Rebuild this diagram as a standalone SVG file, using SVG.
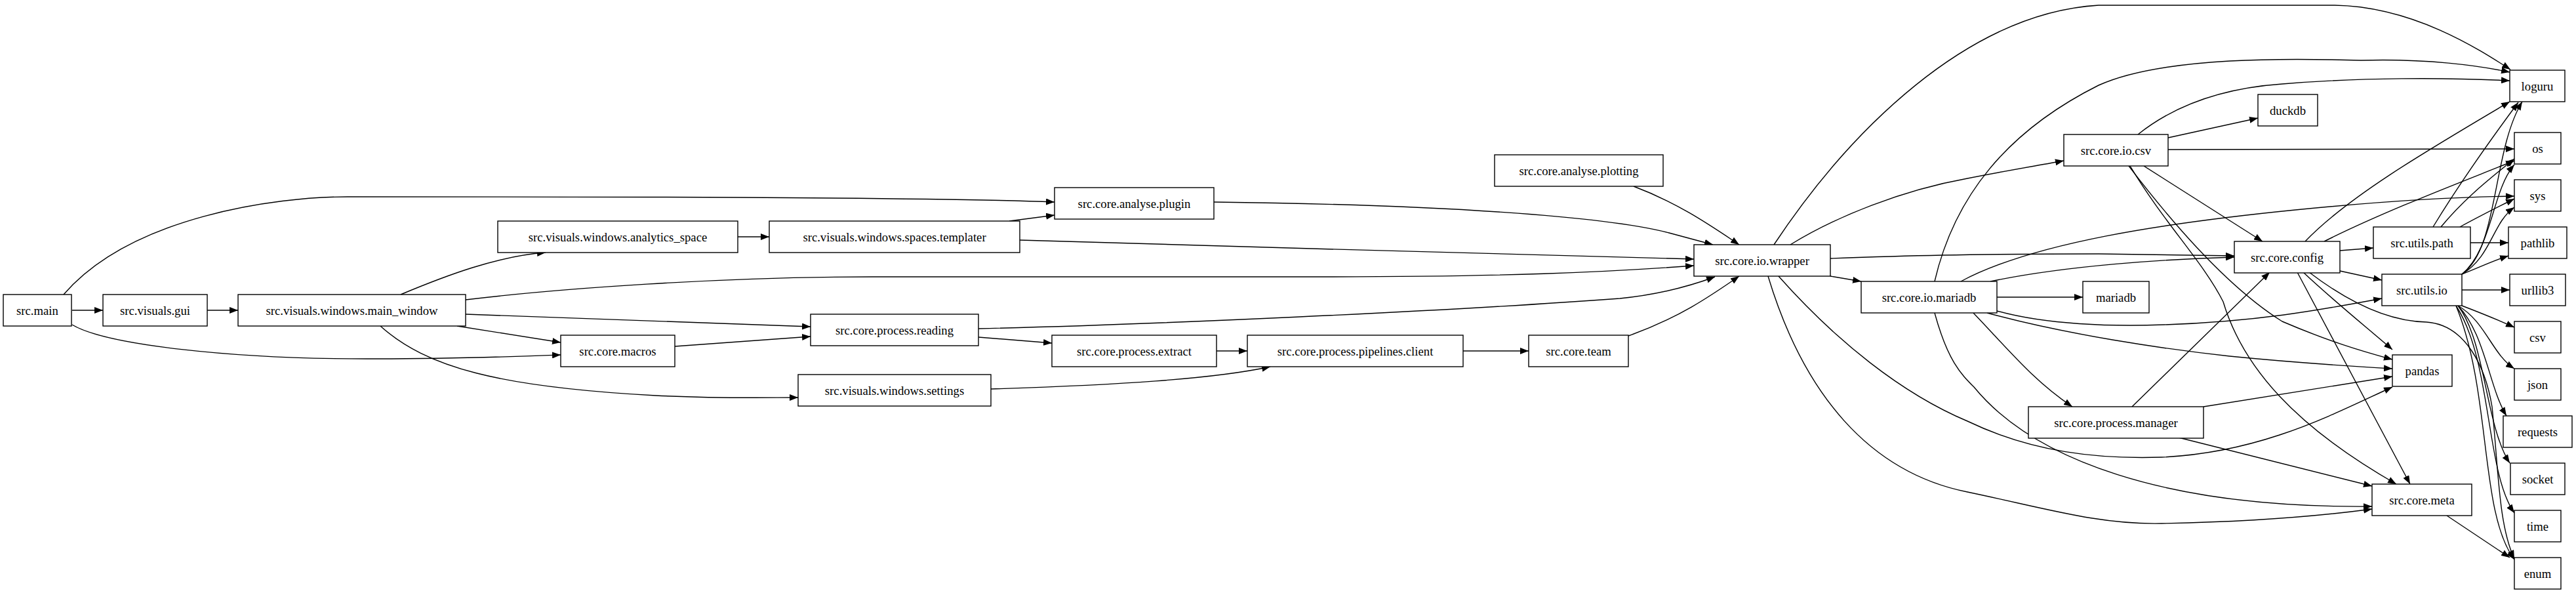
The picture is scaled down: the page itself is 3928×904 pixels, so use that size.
<svg xmlns="http://www.w3.org/2000/svg" width="3928" height="904" viewBox="0 0 3928 904">
<style>
.n rect{fill:#fff;stroke:#000;stroke-width:1.4}
.n text{font-family:"Liberation Serif",serif;font-size:18.7px;text-anchor:middle;dominant-baseline:central;fill:#000}
#edges path{fill:none;stroke:#000;stroke-width:1.4;marker-end:url(#a)}
</style>
<defs><marker id="a" viewBox="0 0 13 10" refX="13" refY="5" markerWidth="13" markerHeight="10" markerUnits="userSpaceOnUse" orient="auto"><path d="M0,0 L13,5 L0,10 z" fill="#000"/></marker></defs>
<rect width="3928" height="904" fill="#fff"/>
<g id="edges">
<path d="M110,473 L157,473"/>
<path d="M316,473 L363,473"/>
<path d="M97,449 C200,330 420,300 530,300 C900,300 1400,300 1608,308"/>
<path d="M110,495 C160,525 350,548 575,547 C700,547 800,543 855,541"/>
<path d="M611,449 C680,420 760,390 832,385"/>
<path d="M710,457 C850,440 1100,422 1330,422 L2000,422 C2300,422 2450,415 2583,405"/>
<path d="M710,479 L1236,498"/>
<path d="M697,497 L855,522"/>
<path d="M580,497 C650,560 760,590 1000,603 C1100,608 1170,606 1217,606"/>
<path d="M1125,361 L1173,361"/>
<path d="M1539,337 L1608,328"/>
<path d="M1555,366 L2000,379 C2300,387 2450,392 2583,395"/>
<path d="M1851,308 C2200,312 2450,330 2545,355 L2612,373"/>
<path d="M1029,528 L1236,513"/>
<path d="M1492,501 C1750,495 2200,475 2470,455 C2530,449 2580,435 2615,422"/>
<path d="M1492,514 L1604,523"/>
<path d="M1855,535 L1902,535"/>
<path d="M1511,593 C1700,587 1850,578 1937,559"/>
<path d="M2231,535 L2331,535"/>
<path d="M2483,512 C2560,485 2610,450 2652,421"/>
<path d="M2491,284 C2560,310 2610,345 2652,373"/>
<path d="M2705,373 C2820,200 3000,20 3200,8 L3560,8 C3680,10 3780,75 3828,106"/>
<path d="M2730,373 C2800,330 2900,290 3000,272 C3060,260 3110,252 3147,245"/>
<path d="M2791,394 C2900,390 3000,387 3200,387 L3407,390"/>
<path d="M2791,421 L2838,429"/>
<path d="M2712,421 C2800,520 2900,600 3000,642 C3100,690 3200,700 3296,697 C3450,690 3560,630 3648,590"/>
<path d="M2696,421 C2750,600 2850,720 3000,750 C3120,775 3200,800 3296,798 C3450,795 3550,785 3617,776"/>
<path d="M2950,429 C2980,300 3060,200 3200,130 C3300,85 3500,89 3600,92 C3700,89 3780,100 3827,110"/>
<path d="M3260,205 C3310,165 3380,135 3480,128 C3600,118 3730,118 3827,123"/>
<path d="M3306,210 L3443,180"/>
<path d="M3306,228 L3834,227"/>
<path d="M3269,253 L3450,368"/>
<path d="M3246,253 C3320,350 3400,440 3480,490 C3550,520 3600,535 3648,548"/>
<path d="M3248,253 C3300,340 3360,400 3390,460 C3420,560 3500,650 3654,738"/>
<path d="M2990,429 C3100,370 3300,340 3500,320 C3650,305 3760,300 3834,299"/>
<path d="M3035,429 C3150,405 3300,395 3407,392"/>
<path d="M3045,453 L3176,453"/>
<path d="M3045,474 C3120,495 3220,498 3300,495 C3450,490 3550,470 3632,455"/>
<path d="M3030,477 C3150,510 3300,532 3400,543 C3500,553 3580,558 3648,562"/>
<path d="M3009,477 C3060,530 3100,580 3160,620"/>
<path d="M2950,477 C2970,550 2990,570 3010,590 C3100,700 3300,775 3617,772"/>
<path d="M3515,368 C3580,300 3700,230 3827,155"/>
<path d="M3544,368 C3640,320 3760,275 3834,245"/>
<path d="M3568,382 L3619,378"/>
<path d="M3568,413 L3632,427"/>
<path d="M3512,415 C3560,460 3610,500 3648,533"/>
<path d="M3503,415 L3675,738"/>
<path d="M3521,415 C3580,460 3640,490 3700,491 C3760,495 3790,560 3800,620 C3810,720 3810,800 3834,852"/>
<path d="M3251,620 L3461,415"/>
<path d="M3360,620 L3648,574"/>
<path d="M3322,667 L3617,741"/>
<path d="M3710,346 C3750,280 3800,210 3840,156"/>
<path d="M3722,346 C3760,300 3800,270 3834,242"/>
<path d="M3751,346 C3780,330 3810,315 3834,303"/>
<path d="M3767,370 L3825,370"/>
<path d="M3754,418 C3810,380 3800,230 3846,155"/>
<path d="M3754,418 C3800,380 3800,290 3834,251"/>
<path d="M3754,418 C3800,390 3800,340 3834,316"/>
<path d="M3754,418 C3780,408 3800,398 3825,390"/>
<path d="M3754,442 L3827,442"/>
<path d="M3754,466 C3780,476 3810,488 3834,499"/>
<path d="M3748,466 C3790,490 3800,540 3834,562"/>
<path d="M3748,466 C3790,510 3795,590 3822,634"/>
<path d="M3748,466 C3790,520 3790,650 3827,706"/>
<path d="M3745,466 C3800,550 3790,720 3834,782"/>
<path d="M3745,466 C3800,600 3780,780 3834,853"/>
<path d="M3731,786 L3827,850"/>
</g>
<g id="src.main" class="n"><rect x="5" y="449" width="104" height="48"/><text x="57" y="473">src.main</text></g>
<g id="src.visuals.gui" class="n"><rect x="157" y="449" width="159" height="48"/><text x="236.5" y="473">src.visuals.gui</text></g>
<g id="main_window" class="n"><rect x="363" y="449" width="347" height="48"/><text x="536.5" y="473">src.visuals.windows.main_window</text></g>
<g id="analytics_space" class="n"><rect x="759" y="337" width="366" height="48"/><text x="942" y="361">src.visuals.windows.analytics_space</text></g>
<g id="macros" class="n"><rect x="855" y="511" width="174" height="48"/><text x="942" y="535">src.core.macros</text></g>
<g id="templater" class="n"><rect x="1173" y="337" width="382" height="48"/><text x="1364" y="361">src.visuals.windows.spaces.templater</text></g>
<g id="plugin" class="n"><rect x="1608" y="286" width="243" height="48"/><text x="1729.5" y="310">src.core.analyse.plugin</text></g>
<g id="reading" class="n"><rect x="1236" y="479" width="256" height="48"/><text x="1364" y="503">src.core.process.reading</text></g>
<g id="extract" class="n"><rect x="1604" y="511" width="251" height="48"/><text x="1729.5" y="535">src.core.process.extract</text></g>
<g id="settings" class="n"><rect x="1217" y="571" width="294" height="48"/><text x="1364" y="595">src.visuals.windows.settings</text></g>
<g id="pipelines" class="n"><rect x="1902" y="511" width="329" height="48"/><text x="2066.5" y="535">src.core.process.pipelines.client</text></g>
<g id="team" class="n"><rect x="2331" y="511" width="152" height="48"/><text x="2407" y="535">src.core.team</text></g>
<g id="plotting" class="n"><rect x="2279" y="236" width="257" height="48"/><text x="2407.5" y="260">src.core.analyse.plotting</text></g>
<g id="wrapper" class="n"><rect x="2583" y="373" width="208" height="48"/><text x="2687" y="397">src.core.io.wrapper</text></g>
<g id="io.mariadb" class="n"><rect x="2838" y="429" width="207" height="48"/><text x="2941.5" y="453">src.core.io.mariadb</text></g>
<g id="io.csv" class="n"><rect x="3147" y="205" width="159" height="48"/><text x="3226.5" y="229">src.core.io.csv</text></g>
<g id="duckdb" class="n"><rect x="3443" y="144" width="91" height="48"/><text x="3488.5" y="168">duckdb</text></g>
<g id="mariadb" class="n"><rect x="3176" y="429" width="101" height="48"/><text x="3226.5" y="453">mariadb</text></g>
<g id="config" class="n"><rect x="3407" y="368" width="161" height="48"/><text x="3487.5" y="392">src.core.config</text></g>
<g id="manager" class="n"><rect x="3093" y="620" width="267" height="48"/><text x="3226.5" y="644">src.core.process.manager</text></g>
<g id="utils.path" class="n"><rect x="3619" y="346" width="148" height="48"/><text x="3693" y="370">src.utils.path</text></g>
<g id="utils.io" class="n"><rect x="3632" y="418" width="122" height="48"/><text x="3693" y="442">src.utils.io</text></g>
<g id="pandas" class="n"><rect x="3648" y="541" width="91" height="48"/><text x="3693.5" y="565">pandas</text></g>
<g id="meta" class="n"><rect x="3617" y="738" width="152" height="48"/><text x="3693" y="762">src.core.meta</text></g>
<g id="loguru" class="n"><rect x="3827" y="107" width="84" height="48"/><text x="3869" y="131">loguru</text></g>
<g id="os" class="n"><rect x="3834" y="202" width="71" height="48"/><text x="3869.5" y="226">os</text></g>
<g id="sys" class="n"><rect x="3834" y="274" width="71" height="48"/><text x="3869.5" y="298">sys</text></g>
<g id="pathlib" class="n"><rect x="3825" y="346" width="89" height="48"/><text x="3869.5" y="370">pathlib</text></g>
<g id="urllib3" class="n"><rect x="3827" y="418" width="85" height="48"/><text x="3869.5" y="442">urllib3</text></g>
<g id="csv" class="n"><rect x="3834" y="490" width="71" height="48"/><text x="3869.5" y="514">csv</text></g>
<g id="json" class="n"><rect x="3834" y="562" width="71" height="48"/><text x="3869.5" y="586">json</text></g>
<g id="requests" class="n"><rect x="3817" y="634" width="105" height="48"/><text x="3869.5" y="658">requests</text></g>
<g id="socket" class="n"><rect x="3828" y="706" width="83" height="48"/><text x="3869.5" y="730">socket</text></g>
<g id="time" class="n"><rect x="3834" y="778" width="71" height="48"/><text x="3869.5" y="802">time</text></g>
<g id="enum" class="n"><rect x="3834" y="850" width="71" height="48"/><text x="3869.5" y="874">enum</text></g>
</svg>
